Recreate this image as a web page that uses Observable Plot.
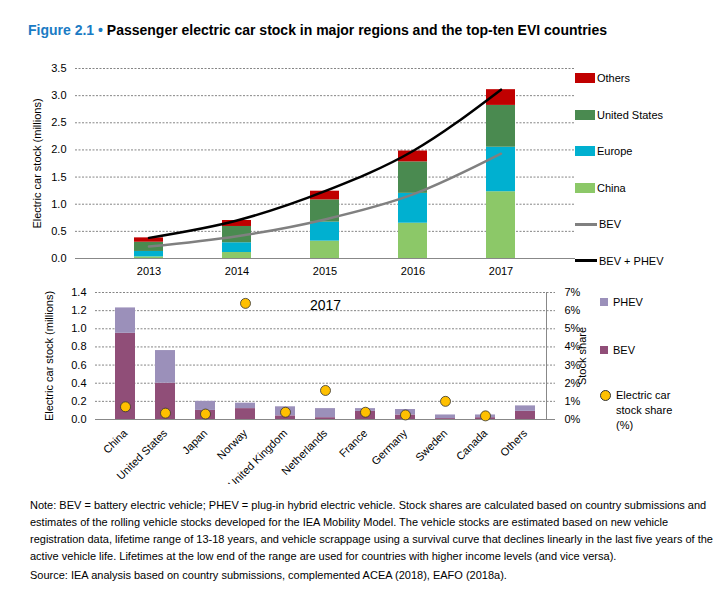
<!DOCTYPE html>
<html><head><meta charset="utf-8">
<script src="https://cdn.jsdelivr.net/npm/d3@7"></script>
<script src="https://cdn.jsdelivr.net/npm/@observablehq/plot@0.6"></script>
<style>
body{margin:0;background:#fff;font-family:"Liberation Sans",Arial,sans-serif;color:#000;}
#root{position:relative;width:722px;height:607px;}
.abs{position:absolute;}
.leg{font-size:11px;display:flex;align-items:center;white-space:nowrap;}
.sw{display:inline-block;width:20px;height:10px;margin-right:2px;}
.ln{display:inline-block;width:22px;height:3px;margin-right:2px;}
</style></head><body><div id="root">
<div class="abs" style="left:28px;top:22px;font-size:14px;font-weight:bold;"><span style="color:#1a7bc4">Figure 2.1 •</span> Passenger electric car stock in major regions and the top-ten EVI countries</div>
<div id="topc" class="abs" style="left:30px;top:60px;"></div>
<div id="botc" class="abs" style="left:30px;top:285px;"></div>
<div id="leg1" class="abs" style="left:575px;top:72px;"></div>
<div id="leg2" class="abs" style="left:600px;top:296px;"></div>
<div class="abs" style="left:30px;top:497px;width:688px;font-size:11px;line-height:17px;">Note: BEV = battery electric vehicle; PHEV = plug-in hybrid electric vehicle. Stock shares are calculated based on country submissions and estimates of the rolling vehicle stocks developed for the IEA Mobility Model. The vehicle stocks are estimated based on new vehicle registration data, lifetime range of 13-18 years, and vehicle scrappage using a survival curve that declines linearly in the last five years of the active vehicle life. Lifetimes at the low end of the range are used for countries with higher income levels (and vice versa).<div style="margin-top:2px">Source: IEA analysis based on country submissions, complemented ACEA (2018), EAFO (2018a).</div></div>
</div>
<script>
const years = ["2013","2014","2015","2016","2017"];
const regions = ["China","Europe","United States","Others"];
const china = [0.03,0.11,0.32,0.65,1.23];
const europe = [0.10,0.18,0.35,0.55,0.82];
const us = [0.17,0.30,0.41,0.58,0.77];
const othersR = [0.08,0.11,0.16,0.20,0.29];
const bevLine = [0.22,0.41,0.72,1.18,1.93];
const totalLine = [0.38,0.70,1.24,1.98,3.11];
const regionColors = ["#8cc868","#00b0d0","#4a8a50","#c00000"];

const countries = ["China","United States","Japan","Norway","United Kingdom","Netherlands","France","Germany","Sweden","Canada","Others"];
const bev = [0.95,0.40,0.10,0.12,0.04,0.02,0.09,0.05,0.01,0.02,0.09];
const phev = [0.28,0.36,0.10,0.06,0.10,0.10,0.03,0.06,0.04,0.03,0.06];
const share = [0.7,0.35,0.3,6.4,0.4,1.6,0.4,0.25,1.0,0.2,null];
const pctTicks = ["0%","1%","2%","3%","4%","5%","6%","7%"];

const font = "Liberation Sans, Arial, sans-serif";
const series = [china,europe,us,othersR];
const stack = [];
years.forEach((y,i)=>regions.forEach((r,j)=>stack.push({year:y,region:r,v:series[j][i]})));
const lines = years.map((y,i)=>({year:y,bev:bevLine[i],tot:totalLine[i]}));

const chartTop = Plot.plot({
  width:550,height:222,marginLeft:45,marginRight:5,marginTop:8,marginBottom:24,
  style:{fontFamily:font,fontSize:"11px",color:"#000"},
  x:{domain:years,padding:0.67,label:null,tickSize:0},
  y:{domain:[0,3.5],ticks:d3.range(0,3.51,0.5),tickFormat:d=>d.toFixed(1),label:"Electric car stock (millions)",labelAnchor:"center",labelArrow:"none",tickSize:0},
  color:{domain:regions,range:regionColors},
  marks:[
    Plot.ruleY(d3.range(0.5,3.51,0.5),{stroke:"#666",strokeDasharray:"2,1.5",strokeWidth:0.8}),
    Plot.barY(stack,{x:"year",y:"v",fill:"region",order:regions}),
    Plot.ruleY([0],{stroke:"#888"}),
    Plot.line(lines,{x:"year",y:"bev",stroke:"#808080",strokeWidth:2.5,curve:"monotone-x"}),
    Plot.line(lines,{x:"year",y:"tot",stroke:"#000",strokeWidth:2.5,curve:"monotone-x"})
  ]
});
document.getElementById("topc").appendChild(chartTop);

const bars = [];
countries.forEach((c,i)=>{bars.push({c,t:"BEV",v:bev[i]});bars.push({c,t:"PHEV",v:phev[i]});});
const dots = countries.map((c,i)=>({c,s:share[i]})).filter(d=>d.s!=null);
const chartBot = Plot.plot({
  width:560,height:199,marginLeft:65,marginRight:35,marginTop:7,marginBottom:65,
  style:{fontFamily:font,fontSize:"11px",color:"#000"},
  x:{domain:countries,padding:0.5,label:null,tickSize:0,tickRotate:-45},
  y:{domain:[0,1.4],label:null,tickSize:0,axis:null},
  color:{domain:["BEV","PHEV"],range:["#904e78","#9b90ba"]},
  marks:[
    Plot.ruleY(d3.range(0.2,1.41,0.2),{stroke:"#666",strokeDasharray:"2,1.5",strokeWidth:0.8}),
    Plot.barY(bars,{x:"c",y:"v",fill:"t",order:["BEV","PHEV"]}),
    Plot.ruleY([0],{stroke:"#888"}),
    Plot.axisY({ticks:d3.range(0,1.41,0.2),tickFormat:d=>d.toFixed(1),tickSize:0,label:"Electric car stock (millions)",labelAnchor:"center",labelArrow:"none",labelOffset:50}),
    Plot.axisY({anchor:"right",ticks:d3.range(0,1.41,0.2),tickFormat:(d,i)=>pctTicks[i],tickSize:0,label:"Stock share",labelAnchor:"center",labelArrow:"none",labelOffset:30}),
    Plot.ruleX([countries[countries.length-1]],{stroke:"#888",dx:21}),
    Plot.dot(dots,{x:"c",y:d=>d.s*0.2,r:5,fill:"#ffc000",stroke:"#333",strokeWidth:0.8}),
    Plot.text(["2017"],{frameAnchor:"top",dy:8,fontSize:14,text:d=>d})
  ]
});
document.getElementById("botc").appendChild(chartBot);

const leg1 = document.getElementById("leg1");
const items1 = [["sw","#c00000","Others"],["sw","#4a8a50","United States"],["sw","#00b0d0","Europe"],["sw","#8cc868","China"],["ln","#808080","BEV"],["ln","#000","BEV + PHEV"]];
items1.forEach(([k,c,t],i)=>{const d=document.createElement("div");d.className="leg abs";d.style.top=(i*36.5)+"px";d.innerHTML=`<span class="${k}" style="background:${c}"></span>${t}`;leg1.appendChild(d);});
const leg2 = document.getElementById("leg2");
leg2.innerHTML = `<div class="leg abs" style="top:0"><span class="sw" style="width:8px;height:8px;margin-right:5px;background:#9b90ba"></span>PHEV</div>
<div class="leg abs" style="top:48px"><span class="sw" style="width:8px;height:8px;margin-right:5px;background:#904e78"></span>BEV</div>
<div class="leg abs" style="top:92px;align-items:flex-start"><span style="display:inline-block;width:9px;height:9px;border-radius:50%;background:#ffc000;border:1px solid #333;margin:2px 5px 0 0"></span><span style="line-height:15px">Electric car<br>stock share<br>(%)</span></div>`;
</script></body></html>
